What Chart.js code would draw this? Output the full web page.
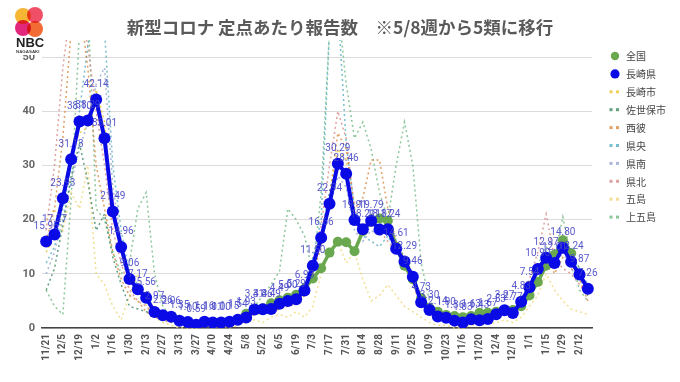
<!DOCTYPE html>
<html><head><meta charset="utf-8">
<script src="https://cdn.jsdelivr.net/npm/chart.js@4.4.1/dist/chart.umd.min.js"></script>
<style>
html,body{margin:0;padding:0;background:#fff;}
#wrap{position:relative;width:680px;height:382px;overflow:hidden;}
canvas{position:absolute;left:0;top:0;}
#logo{position:absolute;left:0;top:0;width:56px;height:55px;background:#fff;}
.dot{position:absolute;border-radius:50%;mix-blend-mode:multiply;}
#nbc{position:absolute;left:16px;top:35px;font:bold 13px "Liberation Sans",Arial,sans-serif;color:#222;}
#nag{position:absolute;left:16px;top:49px;font:bold 8px "Liberation Sans",Arial,sans-serif;color:#444;transform:scale(0.55);transform-origin:0 0;white-space:nowrap;}
</style></head>
<body>
<div id="wrap">
<canvas id="c" width="680" height="382"></canvas>
<div id="logo">
  <div class="dot" style="left:15px;top:8px;width:16px;height:16px;background:#f7b534;"></div>
  <div class="dot" style="left:27px;top:7px;width:16px;height:16px;background:#f04f68;"></div>
  <div class="dot" style="left:15px;top:20px;width:16px;height:16px;background:#e2287a;"></div>
  <div class="dot" style="left:27px;top:21px;width:16px;height:16px;background:#f26a34;"></div>
  <div id="nbc">NBC</div>
  <div id="nag">NAGASAKI</div>
</div>
</div>
<script>
const weeks = ["11/21","11/28","12/5","12/12","12/19","12/26","1/2","1/9","1/16","1/23",
"1/30","2/6","2/13","2/20","2/27","3/6","3/13","3/20","3/27","4/3",
"4/10","4/17","4/24","5/1","5/8","5/15","5/22","5/29","6/5","6/12",
"6/19","6/26","7/3","7/10","7/17","7/24","7/31","8/7","8/14","8/21",
"8/28","9/4","9/11","9/18","9/25","10/2","10/9","10/16","10/23","10/30",
"11/6","11/13","11/20","11/27","12/4","12/11","12/18","12/25","1/1","1/8",
"1/15","1/22","1/29","2/5","2/12","2/19"];

const yTicks = [0,10,20,30,40,50];

const zenkoku = [null,null,null,null,null,null,null,null,null,null,
null,null,null,null,null,null,null,null,null,null,
null,null,null,null,2.63,3.56,3.63,4.55,5.11,5.60,
6.13,7.24,9.14,11.04,13.91,15.91,15.81,14.16,17.84,19.6,
20.2,19.8,15.0,11.5,9.0,5.5,3.7,3.0,2.4,2.2,
2.0,2.2,2.8,2.8,3.0,3.3,3.3,4.0,6.0,8.5,
11.5,13.5,16.2,13.8,null,null];

const nagasakiKen = [15.96,17.27,23.93,31.13,38.10,38.29,42.14,35.01,21.49,14.96,
9.06,7.17,5.56,2.97,2.36,2.06,1.35,1.10,0.59,1.16,
1.01,1.00,1.15,1.54,1.93,3.41,3.46,3.49,4.49,5.00,
5.29,6.93,11.50,16.66,22.94,30.29,28.46,19.91,18.21,19.79,
18.17,18.24,14.61,12.29,9.46,4.73,3.30,2.14,1.90,1.36,
1.03,1.63,1.43,1.67,2.53,3.27,2.77,4.83,7.54,10.90,
12.97,12.01,14.80,12.24,9.87,7.26];

const nagasakiShi = [14,17,24,32,36,37,44,38,22,15,
9,7,5,2.5,2,1.8,1.2,1,0.4,1,
0.9,0.9,1,1.4,1.6,3,3.1,3.2,4,4.6,
5,6.5,11,17,24,33,31,19,19,20,
18,18,15,13,10,5,3.5,2.2,2,1.4,
1,1.7,1.5,1.6,2.3,3.4,2.8,5,7.8,11,
13.5,12,15,12,10,7.5];

const sasebo = [7,11,19,28,34,27,18,21,13,8,
4,3.5,3,2.5,2.2,1.6,1.1,0.9,0.5,0.8,
1,1,1,1.3,2,3.2,3.6,4.2,4.6,5.5,
6,7.5,12,17,25,31,28,21,18,21,
19,20,16,13,10,5,3,2,1.6,1.2,
0.8,1.5,1.2,1.8,2.6,3,2.4,4.5,7.5,11,
13,12.5,17,14,11,6];

const seihi = [16,22,35,55,60,48,30,22,14,9,
6,5,3,2,1.5,1,1,0.6,0.3,0.8,
0.7,0.8,1,1.3,1.5,2.5,2.8,3,3.5,4,
4.5,6,10,15,24,36,33,22,24,31,
31,22,16,12,8,4,2.5,1.8,1.2,0.8,
0.6,1.2,1,1.4,2,2.8,2,4,7,11,
14,10,13,11,9,5];

const kenou = [12,15,22,30,40,52,60,55,30,18,
10,8,6,3.5,2.5,2,1.5,1.1,0.6,1.3,
1.2,1.1,1.3,1.8,2.2,4,4.2,4.5,5.5,6,
6.5,8,13,20,55,60,34,22,17,16,
15,17,14,12,10,5,3.5,2.5,2.2,1.6,
1.2,2,1.8,2,2.8,3.5,3,5.5,8,12,
14,13,16,13,11,8];

const kennan = [10,14,20,27,33,38,45,48,26,16,
9,7,5,3,2.3,2,1.3,1,0.5,1,
1,1,1.2,1.6,2,3.5,3.8,4,5,5.8,
6,7,11,16,22,28,26,18,16,18,
17,18,14,12,9,4.5,3,2,1.8,1.2,
0.9,1.6,1.4,1.6,2.2,3,2.5,4.5,7,10,
12,11,14,11,9,6.5];

const kenhoku = [18,30,48,60,60,52,40,30,18,12,
7,5,4,2.5,2,1.5,1,0.8,0.4,1,
0.8,0.9,1,1.4,1.8,3,3.4,3.6,4.2,5,
5.5,7,12,19,30,40,35,22,18,20,
18,16,14,12,9,4,3,2,1.5,1,
0.8,1.4,1.2,1.5,2.2,3,2.5,5,9,14,
21,13,11,10,8,6];

const goto = [20,22,18,25,22,30,10,8,4,1.5,
6,10,4,2,1,0.5,0,0,0,0.5,
0,0.5,0,0.5,1,1.5,1,2,2.5,2,
3,2,4,10,14,16,12,14,9,5,
6,8,6,4,3,2,1,0.5,0.5,0,
0,0.5,0.5,0.8,1,1.5,1,2,4,6,
10,7,5,3.5,3,2.5];

const kamigoto = [7,4,2.5,24,55,60,22,20,14,10,
12,22,25,10,4,2,1,0.5,0.5,1,
1,1.5,1,2,3,4,6,8,10.5,22,
20,17,10,25,55,60,45,35,38,33,
25,20,30,38,30,12,5,3,2,1,
0.5,1,1.5,1,2,3,2,4,6,10,
15,13,20.5,13,7,5];

const titleText = '新型コロナ 定点あたり報告数　※5/8週から5類に移行';
const FONT = '"Noto Sans CJK JP","Noto Sans",sans-serif';

function dashed(label, data, color) {
  return {label, data, borderColor: color, backgroundColor: color,
    borderWidth: 1.5, borderDash: [2, 3], pointRadius: 0, pointHoverRadius: 0,
    tension: 0, fill: false, order: 5, clip: {left: 4, top: 17, right: 4, bottom: 2}};
}

const datasets = [
  {label: '全国', data: zenkoku, borderColor: '#6aa84f', backgroundColor: '#6aa84f',
   borderWidth: 3.5, pointRadius: 5, pointBorderWidth: 0, tension: 0, order: 2, spanGaps: false},
  {label: '長崎県', data: nagasakiKen, borderColor: '#0a0ae6', backgroundColor: '#0a0ae6',
   borderWidth: 4, pointRadius: 6, pointBorderWidth: 0, tension: 0, order: 1},
  dashed('長崎市', nagasakiShi, 'rgba(232,196,50,0.8)'),
  dashed('佐世保市', sasebo, 'rgba(46,128,86,0.75)'),
  dashed('西彼', seihi, 'rgba(214,128,50,0.75)'),
  dashed('県央', kenou, 'rgba(75,170,190,0.75)'),
  dashed('県南', kennan, 'rgba(140,160,200,0.75)'),
  dashed('県北', kenhoku, 'rgba(214,130,130,0.75)'),
  dashed('五島', goto, 'rgba(240,215,120,0.8)'),
  dashed('上五島', kamigoto, 'rgba(100,180,120,0.75)')
];

const titlePlugin = {
  id: 'centerTitle',
  afterDraw(chart) {
    const ctx = chart.ctx;
    ctx.save();
    ctx.font = 'bold 17.5px ' + FONT;
    ctx.fillStyle = '#5a5a5a';
    ctx.textAlign = 'center';
    ctx.textBaseline = 'middle';
    ctx.fillText(titleText, 340, 27);
    ctx.restore();
  }
};

const labelPlugin = {
  id: 'valueLabels',
  afterDatasetsDraw(chart) {
    const ctx = chart.ctx;
    const meta = chart.getDatasetMeta(1);
    ctx.save();
    ctx.font = '10px Roboto, "Noto Sans", sans-serif';
    ctx.fillStyle = 'rgba(70,70,200,0.9)';
    ctx.textAlign = 'center';
    ctx.textBaseline = 'middle';
    meta.data.forEach((pt, i) => {
      const v = nagasakiKen[i];
      if (v == null) return;
      ctx.fillText(v.toFixed(2), pt.x, pt.y - 15);
    });
    ctx.restore();
  }
};

const legendPlugin = {
  id: 'sideLegend',
  afterDraw(chart) {
    const ctx = chart.ctx;
    const x0 = 615, y0 = 56, dy = 17.9;
    ctx.save();
    chart.data.datasets.forEach((ds, i) => {
      const y = y0 + i * dy;
      ctx.fillStyle = ds.borderColor;
      if (ds.pointRadius > 0) {
        ctx.beginPath();
        ctx.arc(x0, y, i === 1 ? 4.6 : 4.2, 0, Math.PI * 2);
        ctx.fill();
      } else {
        ctx.fillRect(x0 - 5.5, y - 1.5, 3, 3);
        ctx.fillRect(x0 + 1, y - 1.5, 3, 3);
      }
      ctx.fillStyle = '#444';
      ctx.font = '10px ' + FONT;
      ctx.textAlign = 'left';
      ctx.textBaseline = 'middle';
      ctx.fillText(ds.label, 626, y + 0.5);
    });
    ctx.restore();
  }
};

new Chart(document.getElementById('c'), {
  type: 'line',
  data: {labels: weeks, datasets},
  plugins: [labelPlugin, legendPlugin, titlePlugin],
  options: {
    responsive: false,
    animation: false,
    events: [],
    layout: {padding: {left: 6, right: 88, top: 57, bottom: 0}},
    plugins: {
      legend: {display: false},
      tooltip: {enabled: false},
      title: {display: false}
    },
    scales: {
      x: {
        offset: true,
        grid: {display: false, drawTicks: false},
        border: {display: true, color: '#444', width: 1.5},
        ticks: {autoSkip: false, maxRotation: 90, minRotation: 90, padding: 6,
          color: '#555', font: {family: 'Roboto, sans-serif', size: 10, weight: 'bold'},
          callback: (v, i) => (i % 2 === 0 ? weeks[i] : '')},
        afterFit: (s) => { s.height = 54; }
      },
      y: {
        min: 0, max: 50,
        afterBuildTicks: (s) => { s.ticks = yTicks.map(v => ({value: v})); },
        grid: {color: '#dcdcdc', lineWidth: 1, drawTicks: false},
        border: {display: false},
        ticks: {padding: 7, color: '#666', font: {family: 'Roboto, sans-serif', size: 11, weight: 'bold'}},
        afterFit: (s) => { s.width = 36; }
      }
    }
  }
});
</script>
</body></html>
